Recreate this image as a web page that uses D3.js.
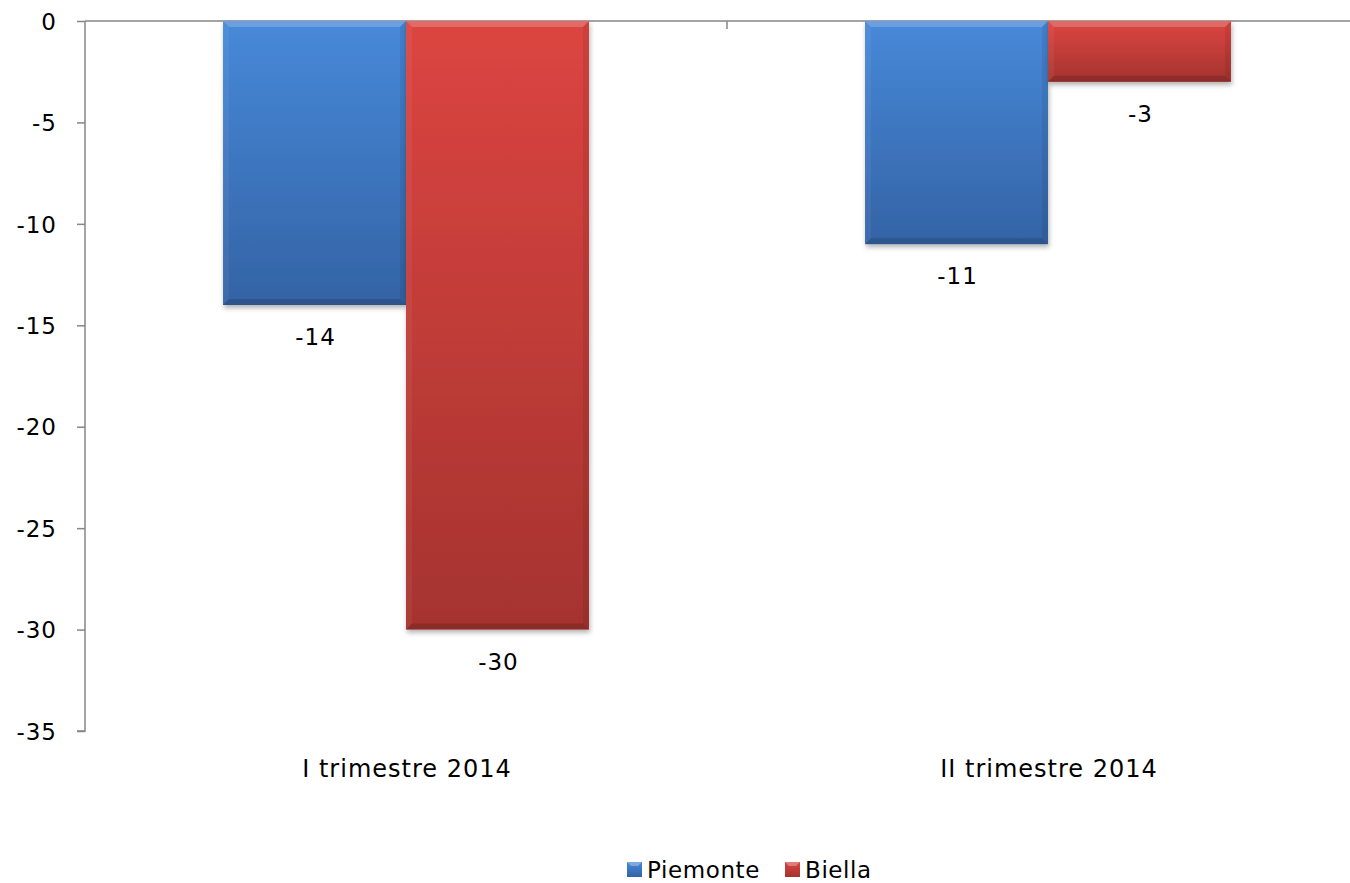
<!DOCTYPE html>
<html>
<head>
<meta charset="utf-8">
<script src="https://cdn.jsdelivr.net/npm/d3@7"></script>
<style>
  body { margin: 0; background: #fff; }
  svg text { font-family: "DejaVu Sans", Verdana, sans-serif; fill: #000; }
</style>
</head>
<body>
<svg width="1350" height="883"></svg>
<script>
// Data
var categories = ["I trimestre 2014", "II trimestre 2014"];
var seriesNames = ["Piemonte", "Biella"];
var piemonte = [-14, -11];
var biella = [-30, -3];
var yTicks = [0, -5, -10, -15, -20, -25, -30, -35];

// colours: [top, bottom]
var colours = {
    "Piemonte": ["#4789d9", "#3463a5"],
    "Biella": ["#dc4541", "#a5332f"]
};

var svg = d3.select("svg"),
    width = +svg.attr("width"),
    height = +svg.attr("height");

// plot area (right part goes off the picture, as in the original)
var plotLeft = 85, plotRight = 1369, plotTop = 21, plotBottom = 731;

var y = d3.scaleLinear().domain([0, -35]).range([plotTop, plotBottom]);

var x0 = d3.scaleBand()
    .domain(categories)
    .range([plotLeft, plotRight])
    .paddingInner(0.43)
    .paddingOuter(0.215);

var x1 = d3.scaleBand()
    .domain(seriesNames)
    .range([0, x0.bandwidth()])
    .padding(0);

var rows = [];
categories.forEach(function (c, i) {
    rows.push({cat: c, name: "Piemonte", value: piemonte[i]});
    rows.push({cat: c, name: "Biella", value: biella[i]});
});

// defs: gradients and shadow
var defs = svg.append("defs");
seriesNames.forEach(function (s, i) {
    var g = defs.append("linearGradient")
        .attr("id", "grad" + i)
        .attr("x1", 0).attr("y1", 0).attr("x2", 0).attr("y2", 1);
    g.append("stop").attr("offset", "0%").attr("stop-color", colours[s][0]);
    g.append("stop").attr("offset", "100%").attr("stop-color", colours[s][1]);
});
var f = defs.append("filter").attr("id", "shadow")
    .attr("x", "-10%").attr("y", "-10%").attr("width", "130%").attr("height", "130%");
f.append("feDropShadow")
    .attr("dx", 1).attr("dy", 3).attr("stdDeviation", 2.5)
    .attr("flood-color", "#000").attr("flood-opacity", 0.3);

// axes
var yAxis = d3.axisLeft(y)
    .tickValues(yTicks)
    .tickSize(8)
    .tickPadding(20)
    .tickFormat(function (d) { return String(d); });

var gy = svg.append("g")
    .attr("transform", "translate(" + plotLeft + ",0)")
    .call(yAxis);
gy.select(".domain").attr("stroke", "#868686").attr("stroke-width", 1.5)
    .attr("d", "M-8," + plotBottom + "H0V" + plotTop);
gy.selectAll(".tick line").attr("stroke", "#868686").attr("stroke-width", 1.5);
gy.selectAll(".tick text")
    .attr("font-size", "23px")
    .attr("letter-spacing", "1px")
    .attr("font-family", "DejaVu Sans, Verdana, sans-serif")
    .attr("fill", "#000")
    .attr("dy", "0.36em");

// horizontal axis at zero with boundary ticks
svg.append("line")
    .attr("x1", plotLeft).attr("x2", width)
    .attr("y1", y(0)).attr("y2", y(0))
    .attr("stroke", "#868686").attr("stroke-width", 1.5);
svg.selectAll(".boundTick")
    .data(categories.slice(1))
    .enter()
    .append("line")
    .attr("class", "boundTick")
    .attr("x1", function (d) { return x0(d) - x0.step() * x0.paddingInner() / 2; })
    .attr("x2", function (d) { return x0(d) - x0.step() * x0.paddingInner() / 2; })
    .attr("y1", y(0)).attr("y2", y(0) + 8)
    .attr("stroke", "#868686").attr("stroke-width", 1.5);

// bars
var bevel = 6;
var bar = svg.selectAll(".bar")
    .data(rows)
    .enter()
    .append("g")
    .attr("class", "bar")
    .attr("transform", function (d) { return "translate(" + (x0(d.cat) + x1(d.name)) + "," + y(0) + ")"; });

bar.append("rect")
    .attr("width", x1.bandwidth())
    .attr("height", function (d) { return y(d.value) - y(0); })
    .attr("fill", function (d) { return "url(#grad" + seriesNames.indexOf(d.name) + ")"; })
    .attr("filter", "url(#shadow)");

// bevel edges
bar.each(function (d) {
    var w = x1.bandwidth(), h = y(d.value) - y(0), b = Math.min(bevel, h / 2);
    var g = d3.select(this);
    g.append("path")
        .attr("d", "M0,0H" + w + "L" + (w - b) + "," + b + "H" + b + "Z")
        .attr("fill", "#fff").attr("opacity", 0.2);
    g.append("path")
        .attr("d", "M0,0L" + b + "," + b + "V" + (h - b) + "L0," + h + "Z")
        .attr("fill", "#fff").attr("opacity", 0.05);
    g.append("path")
        .attr("d", "M" + w + ",0L" + (w - b) + "," + b + "V" + (h - b) + "L" + w + "," + h + "Z")
        .attr("fill", "#000").attr("opacity", 0.07);
    g.append("path")
        .attr("d", "M0," + h + "L" + b + "," + (h - b) + "H" + (w - b) + "L" + w + "," + h + "Z")
        .attr("fill", "#000").attr("opacity", 0.15);
});

// value labels
svg.selectAll(".vlabel")
    .data(rows)
    .enter()
    .append("text")
    .attr("class", "vlabel")
    .attr("x", function (d) { return x0(d.cat) + x1(d.name) + x1.bandwidth() / 2 + 1; })
    .attr("y", function (d) { return y(d.value) + 40; })
    .attr("text-anchor", "middle")
    .attr("font-size", "23px")
    .attr("letter-spacing", "1px")
    .text(function (d) { return d.value; });

// category labels
svg.selectAll(".clabel")
    .data(categories)
    .enter()
    .append("text")
    .attr("class", "clabel")
    .attr("x", function (d) { return x0(d) + x0.bandwidth() / 2 + 1; })
    .attr("y", 777)
    .attr("text-anchor", "middle")
    .attr("font-size", "24px")
    .attr("letter-spacing", "1px")
    .text(function (d) { return d; });

// legend
var legendX = [627, 785];
var legend = svg.selectAll(".legend")
    .data(seriesNames)
    .enter()
    .append("g")
    .attr("class", "legend")
    .attr("transform", function (d, i) { return "translate(" + legendX[i] + ",862)"; });
legend.append("rect")
    .attr("width", 15).attr("height", 15)
    .attr("fill", function (d, i) { return "url(#grad" + i + ")"; });
legend.append("path")
    .attr("d", "M0,0H15L11,4H4Z")
    .attr("fill", "#fff").attr("opacity", 0.3);
legend.append("text")
    .attr("x", 20)
    .attr("y", 16)
    .attr("font-size", "23px")
    .attr("letter-spacing", "0.6px")
    .text(function (d) { return d; });
</script>
</body>
</html>
